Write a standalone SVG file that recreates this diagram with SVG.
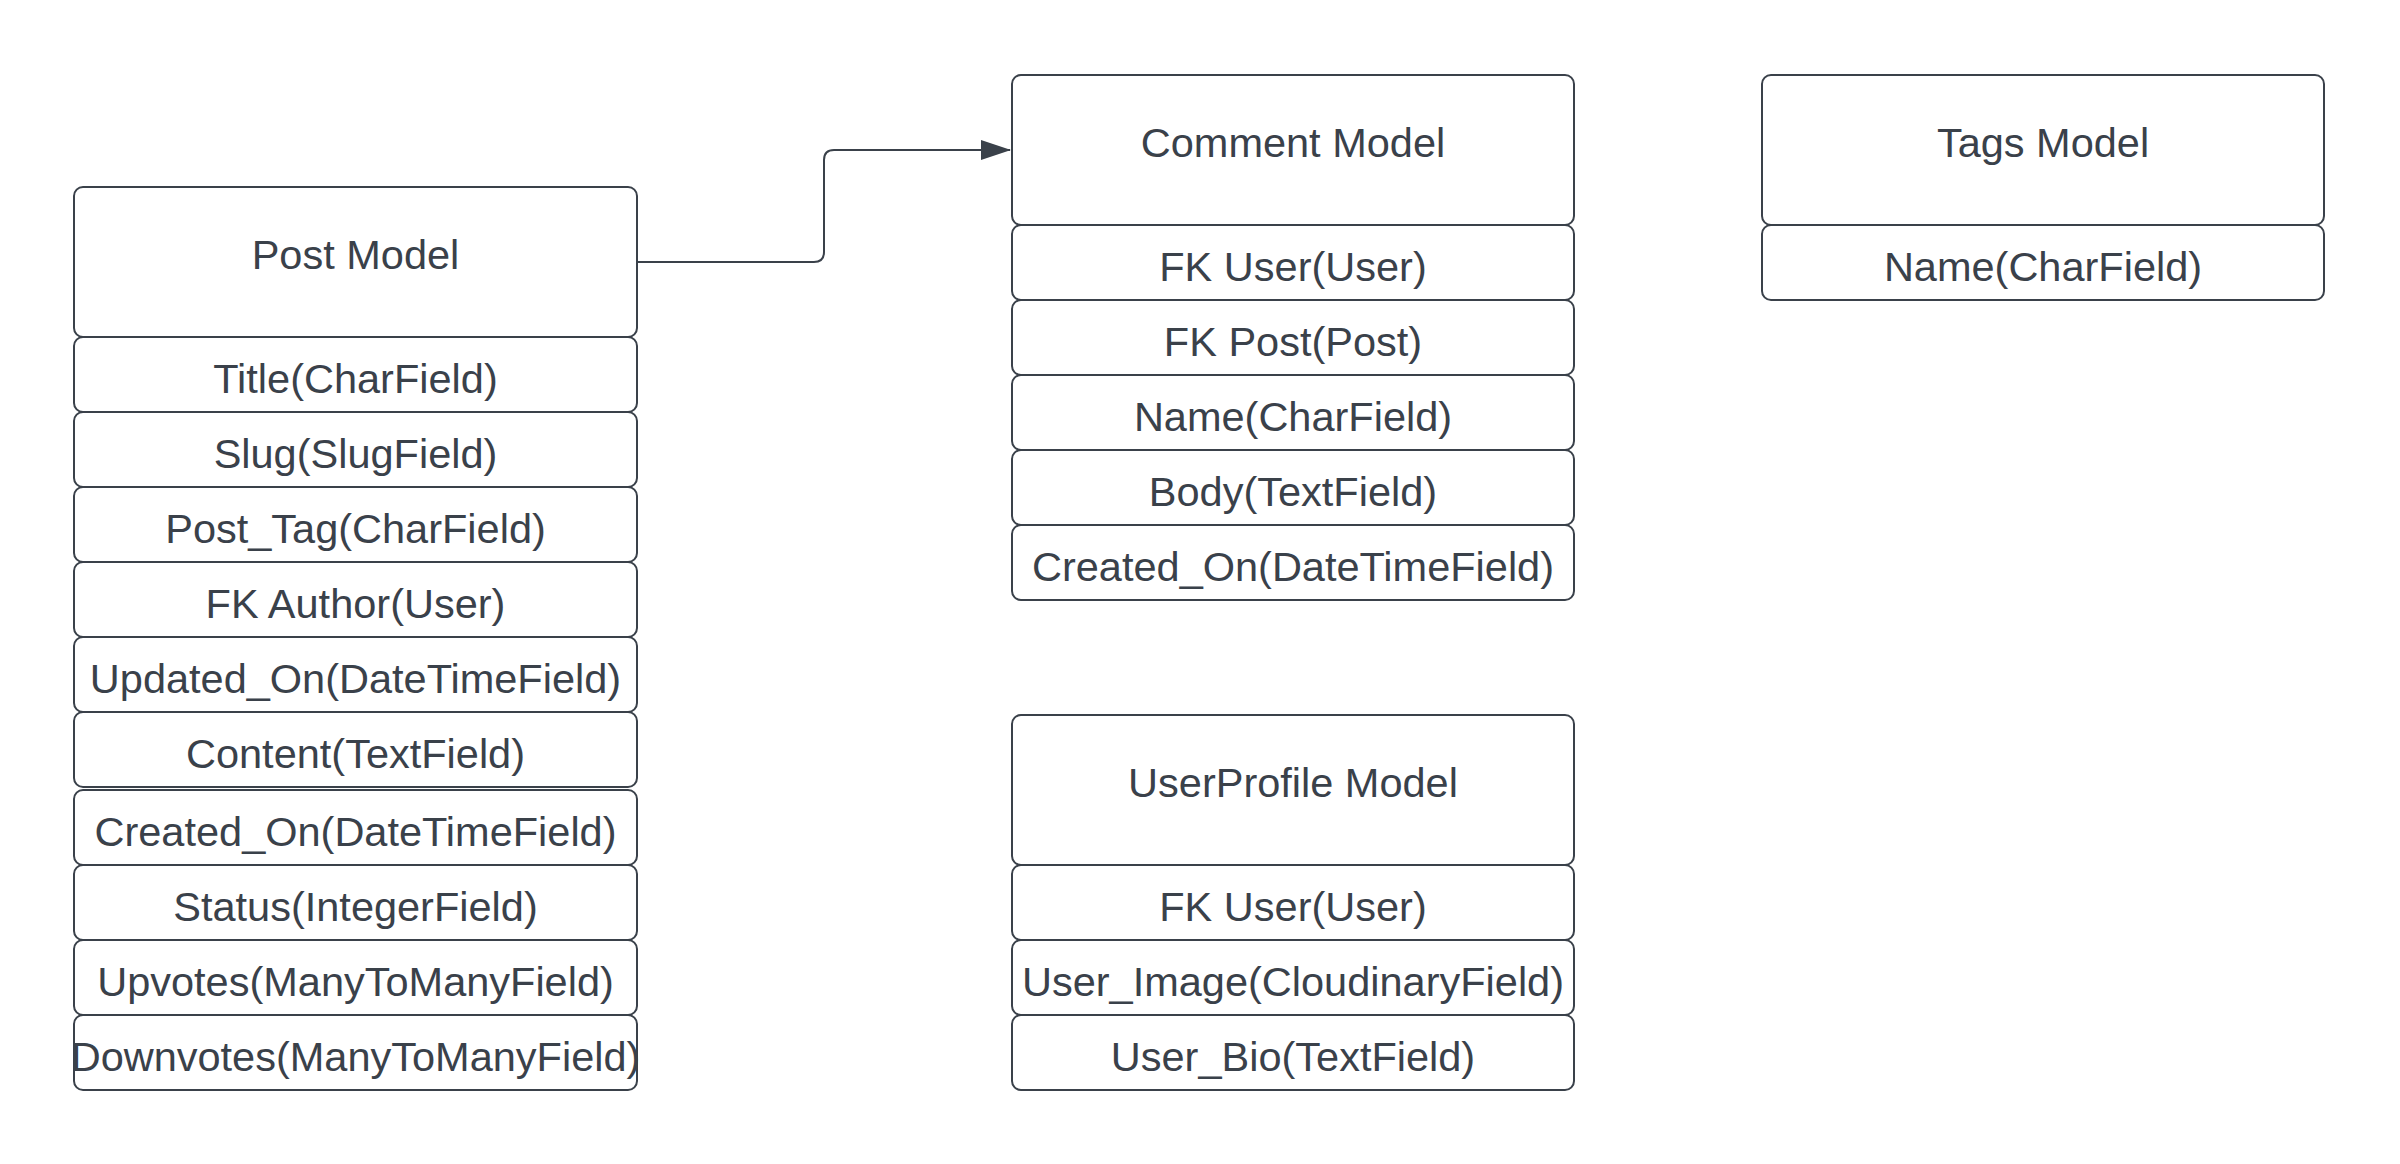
<svg xmlns="http://www.w3.org/2000/svg" width="2400" height="1164" viewBox="0 0 2400 1164">
<defs>
<style>
.box{fill:#ffffff;stroke:#3a414a;stroke-width:2}
.t{font-family:"Liberation Sans",Arial,sans-serif;font-size:41.5px;fill:#3a414a;text-anchor:middle}
.conn{fill:none;stroke:#3a414a;stroke-width:2}
</style>
<marker id="arrow" markerWidth="30" markerHeight="20" refX="29" refY="10" orient="auto" markerUnits="userSpaceOnUse">
<polygon points="0,0 30,10 0,20" fill="#3a414a"/>
</marker>
</defs>
<rect width="2400" height="1164" fill="#ffffff"/>
<g id="connectors">
<path class="conn" d="M637 262 H814 Q824 262 824 252 V160 Q824 150 834 150 H1010" marker-end="url(#arrow)"/>
</g>
<g id="post-model">
<rect class="box" x="74" y="187" width="563" height="150" rx="9"/>
<text class="t" x="355.5" y="269">Post Model</text>
<rect class="box" x="74" y="337" width="563" height="75" rx="9"/>
<text class="t" x="355.5" y="393">Title(CharField)</text>
<rect class="box" x="74" y="412" width="563" height="75" rx="9"/>
<text class="t" x="355.5" y="468">Slug(SlugField)</text>
<rect class="box" x="74" y="487" width="563" height="75" rx="9"/>
<text class="t" x="355.5" y="543">Post_Tag(CharField)</text>
<rect class="box" x="74" y="562" width="563" height="75" rx="9"/>
<text class="t" x="355.5" y="618">FK Author(User)</text>
<rect class="box" x="74" y="637" width="563" height="75" rx="9"/>
<text class="t" x="355.5" y="693">Updated_On(DateTimeField)</text>
<rect class="box" x="74" y="712" width="563" height="75" rx="9"/>
<text class="t" x="355.5" y="768">Content(TextField)</text>
<rect class="box" x="74" y="790" width="563" height="75" rx="9"/>
<text class="t" x="355.5" y="846">Created_On(DateTimeField)</text>
<rect class="box" x="74" y="865" width="563" height="75" rx="9"/>
<text class="t" x="355.5" y="921">Status(IntegerField)</text>
<rect class="box" x="74" y="940" width="563" height="75" rx="9"/>
<text class="t" x="355.5" y="996">Upvotes(ManyToManyField)</text>
<rect class="box" x="74" y="1015" width="563" height="75" rx="9"/>
<text class="t" x="355.5" y="1071">Downvotes(ManyToManyField)</text>
</g>
<g id="comment-model">
<rect class="box" x="1012" y="75" width="562" height="150" rx="9"/>
<text class="t" x="1293" y="157">Comment Model</text>
<rect class="box" x="1012" y="225" width="562" height="75" rx="9"/>
<text class="t" x="1293" y="281">FK User(User)</text>
<rect class="box" x="1012" y="300" width="562" height="75" rx="9"/>
<text class="t" x="1293" y="356">FK Post(Post)</text>
<rect class="box" x="1012" y="375" width="562" height="75" rx="9"/>
<text class="t" x="1293" y="431">Name(CharField)</text>
<rect class="box" x="1012" y="450" width="562" height="75" rx="9"/>
<text class="t" x="1293" y="506">Body(TextField)</text>
<rect class="box" x="1012" y="525" width="562" height="75" rx="9"/>
<text class="t" x="1293" y="581">Created_On(DateTimeField)</text>
</g>
<g id="tags-model">
<rect class="box" x="1762" y="75" width="562" height="150" rx="9"/>
<text class="t" x="2043" y="157">Tags Model</text>
<rect class="box" x="1762" y="225" width="562" height="75" rx="9"/>
<text class="t" x="2043" y="281">Name(CharField)</text>
</g>
<g id="userprofile-model">
<rect class="box" x="1012" y="715" width="562" height="150" rx="9"/>
<text class="t" x="1293" y="797">UserProfile Model</text>
<rect class="box" x="1012" y="865" width="562" height="75" rx="9"/>
<text class="t" x="1293" y="921">FK User(User)</text>
<rect class="box" x="1012" y="940" width="562" height="75" rx="9"/>
<text class="t" x="1293" y="996">User_Image(CloudinaryField)</text>
<rect class="box" x="1012" y="1015" width="562" height="75" rx="9"/>
<text class="t" x="1293" y="1071">User_Bio(TextField)</text>
</g>
</svg>
